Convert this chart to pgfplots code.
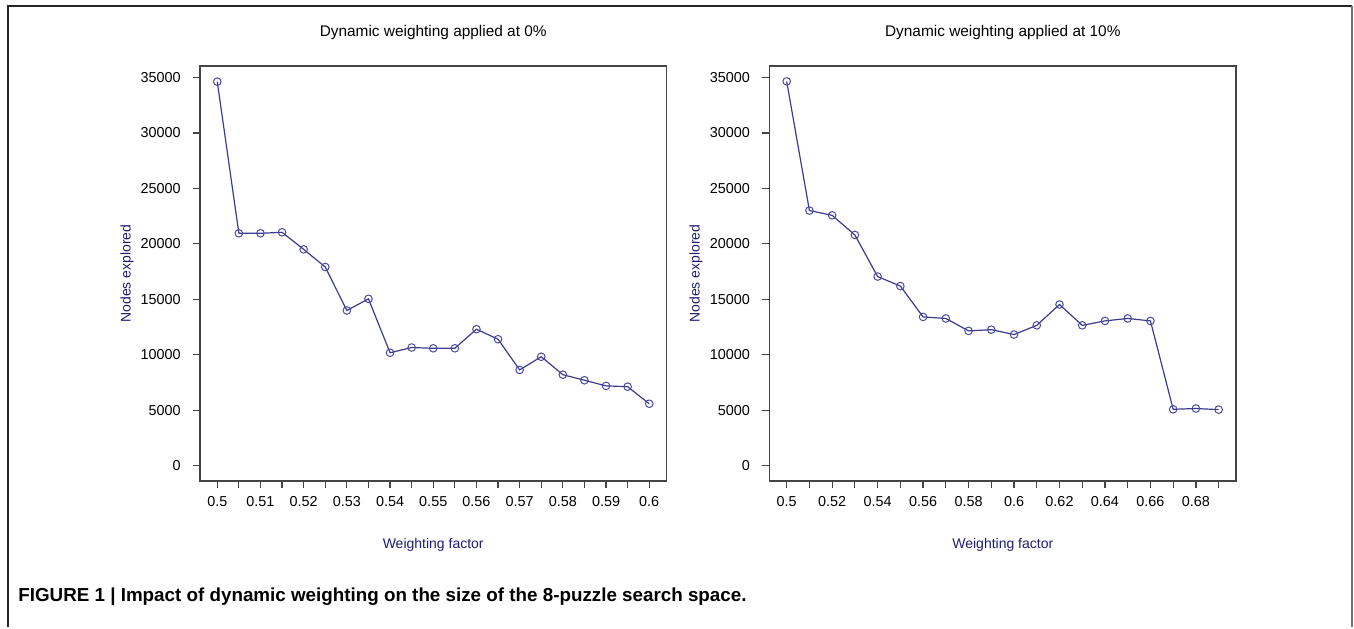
\documentclass[border=0pt]{standalone}
\usepackage{fontspec}
\setmainfont{Liberation Sans}
\usepackage{pgfplots}
\pgfplotsset{compat=1.18}
\definecolor{linecol}{HTML}{3C3C8C}
\definecolor{markcol}{HTML}{4A4AA0}
\definecolor{labcol}{HTML}{1E1E6E}
\definecolor{boxcol}{HTML}{444444}
\pgfplotsset{
  rstyle/.style={
    scale only axis,
    width=233.25pt, height=207.5pt,
    anchor=south west,
    ymin=-1386, ymax=36036,
    ytick={0,5000,10000,15000,20000,25000,30000,35000},
    yticklabel style={/pgf/number format/1000 sep={}, /pgf/number format/fixed},
    scaled y ticks=false,
    /pgf/number format/assume math mode=true,
    tick label style={font=\fontsize{7.2}{8}\selectfont, inner sep=0pt, text=black},
    tick align=outside,
    major tick length=3.5pt,
    tick style={boxcol, line width=0.6pt},
    axis line style={boxcol, line width=0.6pt},
    ytick pos=left, xtick pos=bottom,
    yticklabel shift=6pt,
    xticklabel shift=4pt,
  },
  rplot/.style={linecol, line width=0.6pt, mark=o, mark size=1.9pt, mark options={solid, draw=markcol, fill=none, line width=0.5pt}},
}
\begin{document}
\begin{tikzpicture}
\path (0,0) rectangle (677pt,313.5pt);
\draw[black!85, line width=0.8pt] (4pt,0) -- (4pt,310.5pt) -- (676pt,310.5pt);
\draw[black!55, line width=1.2pt] (676pt,310.5pt) -- (676pt,0);

\begin{axis}[rstyle, at={(100pt,73pt)},
  xmin=0.496, xmax=0.604,
  xtick={0.5,0.505,0.51,0.515,0.52,0.525,0.53,0.535,0.54,0.545,0.55,0.555,0.56,0.565,0.57,0.575,0.58,0.585,0.59,0.595,0.6},
  xticklabels={0.5,{},0.51,{},0.52,{},0.53,{},0.54,{},0.55,{},0.56,{},0.57,{},0.58,{},0.59,{},0.6},
]
\addplot[rplot] coordinates {
(0.5,34620) (0.505,20950) (0.51,20950) (0.515,21040) (0.52,19500) (0.525,17910)
(0.53,13990) (0.535,15040) (0.54,10180) (0.545,10650) (0.55,10580) (0.555,10580)
(0.56,12300) (0.565,11400) (0.57,8630) (0.575,9820) (0.58,8200) (0.585,7700)
(0.59,7190) (0.595,7120) (0.6,5580)
};
\end{axis}

\begin{axis}[rstyle, at={(384.7pt,73pt)},
  xmin=0.4924, xmax=0.6976,
  xtick={0.5,0.51,0.52,0.53,0.54,0.55,0.56,0.57,0.58,0.59,0.6,0.61,0.62,0.63,0.64,0.65,0.66,0.67,0.68,0.69},
  xticklabels={0.5,{},0.52,{},0.54,{},0.56,{},0.58,{},0.6,{},0.62,{},0.64,{},0.66,{},0.68,{}},
]
\addplot[rplot] coordinates {
(0.5,34650) (0.51,23000) (0.52,22570) (0.53,20800) (0.54,17050) (0.55,16190)
(0.56,13410) (0.57,13270) (0.58,12150) (0.59,12260) (0.6,11820) (0.61,12650)
(0.62,14530) (0.63,12650) (0.64,13050) (0.65,13270) (0.66,13050) (0.67,5080)
(0.68,5150) (0.69,5050)
};
\end{axis}

\node[font=\fontsize{7.7}{9}\selectfont] at (216.6pt,297pt) {Dynamic weighting applied at 0\%};
\node[font=\fontsize{7.7}{9}\selectfont] at (501.4pt,297pt) {Dynamic weighting applied at 10\%};
\node[font=\fontsize{7}{8}\selectfont, text=labcol] at (216.6pt,41pt) {Weighting factor};
\node[font=\fontsize{7}{8}\selectfont, text=labcol] at (501.4pt,41pt) {Weighting factor};
\node[font=\fontsize{7}{8}\selectfont, text=labcol, rotate=90] at (63.5pt,176.75pt) {Nodes explored};
\node[font=\fontsize{7}{8}\selectfont, text=labcol, rotate=90] at (348pt,176.75pt) {Nodes explored};
\node[font=\bfseries\fontsize{9.4}{11}\selectfont, anchor=west, inner sep=0pt] at (9pt,15pt) {FIGURE 1 | Impact of dynamic weighting on the size of the 8-puzzle search space.};
\end{tikzpicture}
\end{document}
